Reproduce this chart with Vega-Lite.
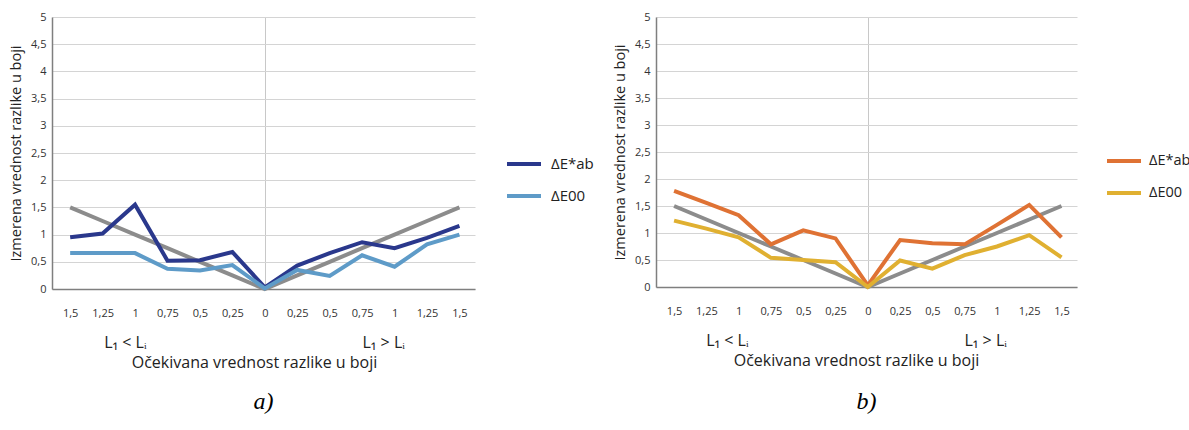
{
  "$schema": "https://vega.github.io/schema/vega-lite/v6.json",
  "background": "white",
  "padding": {"left": 8, "top": 11, "right": 0, "bottom": 0},
  "config": {
    "view": {"stroke": null},
    "font": "Open Sans",
    "axis": {"labelFont": "Open Sans", "titleFont": "Open Sans", "labelColor": "#333", "titleColor": "#222", "titleFontWeight": "normal", "labelOverlap": false},
    "legend": {"labelFont": "Open Sans"}
  },
  "datasets": {
    "ref": [
      {"x": -1.5, "v": 1.5}, {"x": -1.25, "v": 1.25}, {"x": -1, "v": 1}, {"x": -0.75, "v": 0.75}, {"x": -0.5, "v": 0.5}, {"x": -0.25, "v": 0.25}, {"x": 0, "v": 0},
      {"x": 0.25, "v": 0.25}, {"x": 0.5, "v": 0.5}, {"x": 0.75, "v": 0.75}, {"x": 1, "v": 1}, {"x": 1.25, "v": 1.25}, {"x": 1.5, "v": 1.5}
    ],
    "a": [
      {"x": -1.5, "s": "ΔE*ab", "v": 0.95}, {"x": -1.25, "s": "ΔE*ab", "v": 1.02}, {"x": -1, "s": "ΔE*ab", "v": 1.55}, {"x": -0.75, "s": "ΔE*ab", "v": 0.52}, {"x": -0.5, "s": "ΔE*ab", "v": 0.53}, {"x": -0.25, "s": "ΔE*ab", "v": 0.68}, {"x": 0, "s": "ΔE*ab", "v": 0.03},
      {"x": 0.25, "s": "ΔE*ab", "v": 0.43}, {"x": 0.5, "s": "ΔE*ab", "v": 0.66}, {"x": 0.75, "s": "ΔE*ab", "v": 0.86}, {"x": 1, "s": "ΔE*ab", "v": 0.75}, {"x": 1.25, "s": "ΔE*ab", "v": 0.94}, {"x": 1.5, "s": "ΔE*ab", "v": 1.16},
      {"x": -1.5, "s": "ΔE00", "v": 0.66}, {"x": -1.25, "s": "ΔE00", "v": 0.66}, {"x": -1, "s": "ΔE00", "v": 0.66}, {"x": -0.75, "s": "ΔE00", "v": 0.37}, {"x": -0.5, "s": "ΔE00", "v": 0.34}, {"x": -0.25, "s": "ΔE00", "v": 0.44}, {"x": 0, "s": "ΔE00", "v": 0.01},
      {"x": 0.25, "s": "ΔE00", "v": 0.35}, {"x": 0.5, "s": "ΔE00", "v": 0.24}, {"x": 0.75, "s": "ΔE00", "v": 0.62}, {"x": 1, "s": "ΔE00", "v": 0.41}, {"x": 1.25, "s": "ΔE00", "v": 0.82}, {"x": 1.5, "s": "ΔE00", "v": 1.0}
    ],
    "b": [
      {"x": -1.5, "s": "ΔE*ab", "v": 1.78}, {"x": -1.25, "s": "ΔE*ab", "v": 1.56}, {"x": -1, "s": "ΔE*ab", "v": 1.33}, {"x": -0.75, "s": "ΔE*ab", "v": 0.79}, {"x": -0.5, "s": "ΔE*ab", "v": 1.05}, {"x": -0.25, "s": "ΔE*ab", "v": 0.9}, {"x": 0, "s": "ΔE*ab", "v": 0.03},
      {"x": 0.25, "s": "ΔE*ab", "v": 0.87}, {"x": 0.5, "s": "ΔE*ab", "v": 0.81}, {"x": 0.75, "s": "ΔE*ab", "v": 0.79}, {"x": 1, "s": "ΔE*ab", "v": 1.15}, {"x": 1.25, "s": "ΔE*ab", "v": 1.52}, {"x": 1.5, "s": "ΔE*ab", "v": 0.92},
      {"x": -1.5, "s": "ΔE00", "v": 1.23}, {"x": -1.25, "s": "ΔE00", "v": 1.08}, {"x": -1, "s": "ΔE00", "v": 0.92}, {"x": -0.75, "s": "ΔE00", "v": 0.54}, {"x": -0.5, "s": "ΔE00", "v": 0.5}, {"x": -0.25, "s": "ΔE00", "v": 0.46}, {"x": 0, "s": "ΔE00", "v": 0.0},
      {"x": 0.25, "s": "ΔE00", "v": 0.49}, {"x": 0.5, "s": "ΔE00", "v": 0.34}, {"x": 0.75, "s": "ΔE00", "v": 0.59}, {"x": 1, "s": "ΔE00", "v": 0.75}, {"x": 1.25, "s": "ΔE00", "v": 0.96}, {"x": 1.5, "s": "ΔE00", "v": 0.55}
    ]
  },
  "spacing": 18,
  "resolve": {"scale": {"color": "independent"}, "legend": {"color": "independent"}},
  "hconcat": [
    {
      "width": 423, "height": 272,
      "title": {"text": "a)", "orient": "bottom", "anchor": "middle", "frame": "group", "font": "Liberation Serif", "fontStyle": "italic", "fontWeight": "normal", "fontSize": 24, "color": "#000", "offset": 20},
      "encoding": {
        "x": {"field": "x", "type": "quantitative", "scale": {"domain": [-1.64, 1.62], "nice": false, "zero": false},
          "axis": {"values": [-1.5, -1.25, -1, -0.75, -0.5, -0.25, 0, 0.25, 0.5, 0.75, 1, 1.25, 1.5], "labelExpr": "replace(format(abs(datum.value), '.2~f'), '.', ',')", "labelOverlap": false, "labelBound": false, "labelFontSize": 11, "labelPadding": 18, "ticks": false, "domainColor": "#7f7f7f", "domainWidth": 1.5,
            "grid": true, "gridColor": {"condition": {"test": "datum.value === 0", "value": "#c8c8c8"}, "value": "transparent"},
            "title": ["L₁ < Lᵢ\u2003\u2003\u2003\u2003\u2003\u2003\u2003\u2003\u2003\u2003\u2003\u2003\u2003\u2002L₁ > Lᵢ", "Očekivana vrednost razlike u boji"], "titleFontSize": 16, "titleLineHeight": 20, "titlePadding": 16, "titleX": 202}},
        "y": {"field": "v", "type": "quantitative", "scale": {"domain": [0, 5], "nice": false},
          "axis": {"values": [0, 0.5, 1, 1.5, 2, 2.5, 3, 3.5, 4, 4.5, 5], "labelExpr": "replace(format(datum.value, '~g'), '.', ',')", "labelOverlap": false, "labelBound": false, "labelFontSize": 11, "labelPadding": 6, "ticks": false, "domainColor": "#7f7f7f", "domainWidth": 1.5, "gridColor": "#d4d4d4",
            "title": "Izmerena vrednost razlike u boji", "titleFontSize": 14.5, "titlePadding": 7}}
      },
      "layer": [
        {
          "data": {"name": "ref"},
          "mark": {"type": "line", "color": "#8c8c8c", "strokeWidth": 4}
        },
        {
          "data": {"name": "a"},
          "mark": {"type": "line", "strokeWidth": 4},
          "encoding": {
            "color": {"field": "s", "type": "nominal", "scale": {"domain": ["ΔE*ab", "ΔE00"], "range": ["#2a388c", "#5e9bc8"]},
              "legend": {"title": null, "orient": "none", "legendX": 453, "legendY": 128, "symbolType": "stroke", "symbolStrokeWidth": 4, "symbolSize": 1156, "labelFontSize": 15, "labelColor": "#222", "rowPadding": 5, "labelOffset": 8}}
          }
        }
      ]
    },
    {
      "width": 421, "height": 270,
      "title": {"text": "b)", "orient": "bottom", "anchor": "middle", "frame": "group", "font": "Liberation Serif", "fontStyle": "italic", "fontWeight": "normal", "fontSize": 24, "color": "#000", "offset": 22},
      "encoding": {
        "x": {"field": "x", "type": "quantitative", "scale": {"domain": [-1.64, 1.62], "nice": false, "zero": false},
          "axis": {"values": [-1.5, -1.25, -1, -0.75, -0.5, -0.25, 0, 0.25, 0.5, 0.75, 1, 1.25, 1.5], "labelExpr": "replace(format(abs(datum.value), '.2~f'), '.', ',')", "labelOverlap": false, "labelBound": false, "labelFontSize": 11, "labelPadding": 18, "ticks": false, "domainColor": "#7f7f7f", "domainWidth": 1.5,
            "grid": true, "gridColor": {"condition": {"test": "datum.value === 0", "value": "#c8c8c8"}, "value": "transparent"},
            "title": ["L₁ < Lᵢ\u2003\u2003\u2003\u2003\u2003\u2003\u2003\u2003\u2003\u2003\u2003\u2003\u2003\u2002L₁ > Lᵢ", "Očekivana vrednost razlike u boji"], "titleFontSize": 16, "titleLineHeight": 20, "titlePadding": 16, "titleX": 200}},
        "y": {"field": "v", "type": "quantitative", "scale": {"domain": [0, 5], "nice": false},
          "axis": {"values": [0, 0.5, 1, 1.5, 2, 2.5, 3, 3.5, 4, 4.5, 5], "labelExpr": "replace(format(datum.value, '~g'), '.', ',')", "labelOverlap": false, "labelBound": false, "labelFontSize": 11, "labelPadding": 6, "ticks": false, "domainColor": "#7f7f7f", "domainWidth": 1.5, "gridColor": "#d4d4d4",
            "title": "Izmerena vrednost razlike u boji", "titleFontSize": 14.5, "titlePadding": 7}}
      },
      "layer": [
        {
          "data": {"name": "ref"},
          "mark": {"type": "line", "color": "#8c8c8c", "strokeWidth": 4}
        },
        {
          "data": {"name": "b"},
          "mark": {"type": "line", "strokeWidth": 4},
          "encoding": {
            "color": {"field": "s", "type": "nominal", "scale": {"domain": ["ΔE*ab", "ΔE00"], "range": ["#df7234", "#e0b031"]},
              "legend": {"title": null, "orient": "none", "legendX": 449, "legendY": 125, "symbolType": "stroke", "symbolStrokeWidth": 4, "symbolSize": 1156, "labelFontSize": 14.5, "labelColor": "#222", "rowPadding": 5, "labelOffset": 6}}
          }
        }
      ]
    }
  ]
}
